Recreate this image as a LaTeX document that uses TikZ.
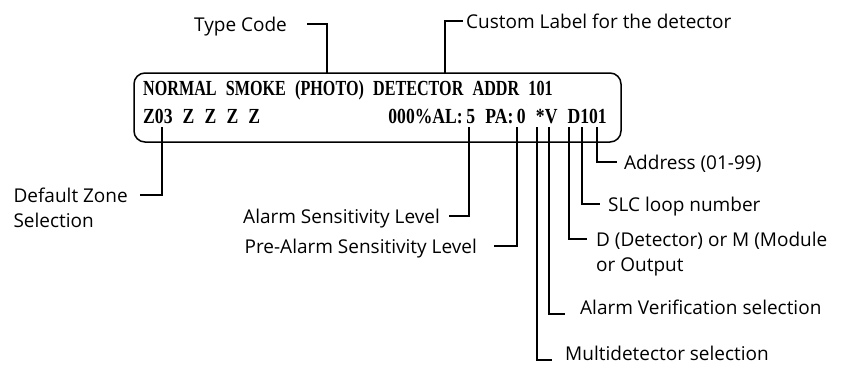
\documentclass[tikz,border=0pt]{standalone}
\usepackage{fontspec}
\setmainfont{Open Sans}
\newfontfamily\lcdfont{Liberation Serif}[FakeStretch=0.75,WordSpace=2.3]
\newfontfamily\lcdwide{Liberation Serif}[FakeStretch=0.82,WordSpace=2.3]
\usetikzlibrary{positioning}

\begin{document}
\begin{tikzpicture}[
  x=1pt,y=-1pt,
  lcd/.style={font=\lcdfont\bfseries\fontsize{21.5}{22}\selectfont,inner sep=0pt},
  lcdlow/.style={font=\lcdwide\bfseries\fontsize{21.5}{22}\selectfont,inner sep=0pt},
  lab/.style={font=\fontsize{19}{23}\selectfont,inner sep=0pt,
    text height=14pt,text depth=0pt},
  lead/.style={line width=2pt},
  lcdbox/.style={line width=1.5pt,rounded corners=11pt}
]
\useasboundingbox (0,0) rectangle (845,364);
\draw[lcdbox] (134,73) rectangle (621,142);
\node[lcd,anchor=base west] (row1) at (143,95) {NORMAL SMOKE (PHOTO) DETECTOR ADDR 101};
\node[lcdlow,anchor=base west] (zones) at (143,123) {Z03 Z Z Z Z};
\node[lcdlow,anchor=base east] (levels) at (607,123) {000\%AL:\,5 PA:\,0 *V D101};
\node[lab,anchor=west] (type) at (194,24) {Type Code};
\node[lab,anchor=west] (custom) at (466,21) {Custom Label for the detector};
\coordinate (ttype) at (327,74);
\coordinate (tcustom) at (445,74);
\draw[lead] ([xshift=20pt]type.east) -| (ttype);
\draw[lead] (tcustom) |- ([xshift=-3pt]custom.west);
\foreach \n/\x in {dz/162,al/469,pa/517,md/537,av/549,dm/569,slc/582,adr/597}{
  \coordinate (t\n) at (\x,127);
}
\node[lab,anchor=east] (dz) at (128,195) {Default Zone};
\node[lab,anchor=base west] (dz2) at ([yshift=-25pt]dz.base west) {Selection};
\node[lab,anchor=east] (al) at (440,216) {Alarm Sensitivity Level};
\node[lab,anchor=east] (pa) at (477,246) {Pre-Alarm Sensitivity Level};
\node[lab,anchor=west] (adr) at (624,162) {Address (01-99)};
\node[lab,anchor=west] (slc) at (608,204) {SLC loop number};
\node[lab,anchor=west] (dm) at (596,239) {D (Detector) or M (Module};
\node[lab,anchor=base west] (dm2) at ([yshift=-25pt]dm.base west) {or Output};
\node[lab,anchor=base west] (av) at (580,314) {Alarm Verification selection};
\node[lab,anchor=base west] (md) at (565,360) {Multidetector selection};
\draw[lead] (tdz) |- ([xshift=12pt]dz.east);
\draw[lead] (tal) |- ([xshift=9pt]al.east);
\draw[lead] (tpa) |- ([xshift=17pt]pa.east);
\draw[lead] (tmd) |- ([xshift=-13pt]md.base west);
\draw[lead] (tav) |- ([xshift=-15pt]av.base west);
\draw[lead] (tdm) |- ([xshift=-9pt]dm.west);
\draw[lead] (tslc) |- ([xshift=-8pt]slc.west);
\draw[lead] (tadr) |- ([xshift=-7pt]adr.west);
\end{tikzpicture}
\end{document}
